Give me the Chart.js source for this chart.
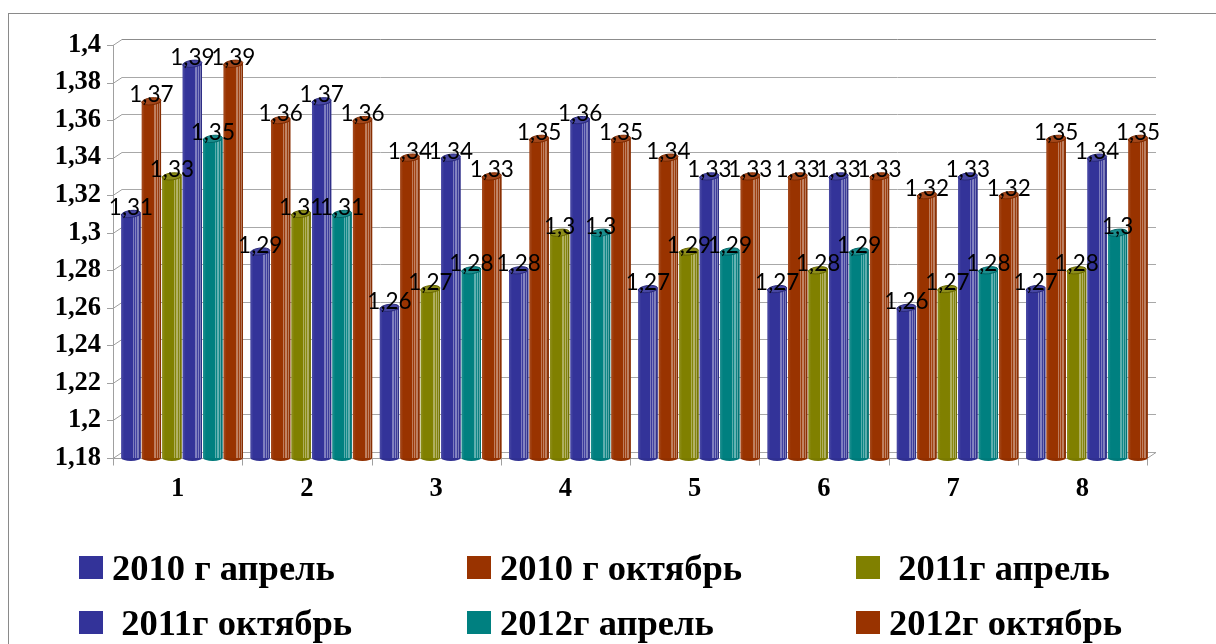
<!DOCTYPE html>
<html>
<head>
<meta charset="utf-8">
<script src="https://cdn.jsdelivr.net/npm/chart.js@4/dist/chart.umd.min.js"></script>
<style>
  html, body { margin: 0; padding: 0; background: #fff; }
  #wrap { position: relative; width: 1216px; height: 644px; overflow: hidden; }
  #frame { position: absolute; left: 8px; top: 13px; width: 1300px; height: 700px; border: 1px solid #8a8a8a; box-sizing: border-box; }
  canvas { position: absolute; left: 0; top: 0; }
  .item { position: absolute; height: 36px; line-height: 36px; white-space: pre;
          font-family: "Liberation Serif", "Times New Roman", serif; font-weight: bold; font-size: 36.5px; color: #000; }
  .sw { position: absolute; width: 24px; height: 23px; }
  .tx { position: absolute; }
</style>
</head>
<body>
<div id="wrap">
  <div id="frame"></div>
  <canvas id="c" width="1216" height="644"></canvas>
  <div id="legend"></div>
</div>
<script>
// Categories along the x axis
const categories = ['1', '2', '3', '4', '5', '6', '7', '8'];

// Series names and values per category
const seriesNames = ['2010 г апрель', '2010 г октябрь', ' 2011г апрель', ' 2011г октябрь', '2012г апрель', '2012г октябрь'];
const apr2010 = [1.31, 1.29, 1.26, 1.28, 1.27, 1.27, 1.26, 1.27];
const oct2010 = [1.37, 1.36, 1.34, 1.35, 1.34, 1.33, 1.32, 1.35];
const apr2011 = [1.33, 1.31, 1.27, 1.30, 1.29, 1.28, 1.27, 1.28];
const oct2011 = [1.39, 1.37, 1.34, 1.36, 1.33, 1.33, 1.33, 1.34];
const apr2012 = [1.35, 1.31, 1.28, 1.30, 1.29, 1.29, 1.28, 1.30];
const oct2012 = [1.39, 1.36, 1.33, 1.35, 1.33, 1.33, 1.32, 1.35];
const seriesValues = [apr2010, oct2010, apr2011, oct2011, apr2012, oct2012];
const seriesColors = ['#333399', '#993300', '#808000', '#333399', '#008080', '#993300'];

// Y axis ticks
const yTicks = [1.18, 1.20, 1.22, 1.24, 1.26, 1.28, 1.30, 1.32, 1.34, 1.36, 1.38, 1.40];

const fmt = v => String(Math.round(v * 100) / 100).replace('.', ',');

// Perspective depth of the back wall relative to the front plane
const DEPTH_X = 9, DEPTH_Y = 6;

function mix(hex, f) {
  const n = parseInt(hex.slice(1), 16);
  let r = (n >> 16) & 255, g = (n >> 8) & 255, b = n & 255;
  const t = f > 0 ? 255 : 0, a = Math.abs(f);
  r = Math.round(r + (t - r) * a); g = Math.round(g + (t - g) * a); b = Math.round(b + (t - b) * a);
  return `rgb(${r},${g},${b})`;
}

// Walls, grid and front axis lines of the 3D box
const wallsPlugin = {
  id: 'walls',
  beforeDatasetsDraw(chart) {
    const { ctx, chartArea, scales } = chart;
    const y = scales.y;
    const half = DEPTH_X / 2;
    const fL = chartArea.left - half, fR = chartArea.right - half;
    const bL = fL + DEPTH_X, bR = fR + DEPTH_X;
    const yTop = y.getPixelForValue(yTicks[yTicks.length - 1]);
    const yBot = y.getPixelForValue(yTicks[0]);
    ctx.save();
    ctx.lineWidth = 1;
    // back gridlines
    yTicks.forEach((v, i) => {
      const py = Math.round(y.getPixelForValue(v) - DEPTH_Y) + 0.5;
      ctx.strokeStyle = i === yTicks.length - 1 ? '#8c8c8c' : '#a8a8a8';
      ctx.beginPath(); ctx.moveTo(bL, py); ctx.lineTo(bR, py); ctx.stroke();
    });
    // front axis and ticks with diagonals to the back wall
    ctx.strokeStyle = '#a0a0a0';
    ctx.beginPath();
    ctx.moveTo(Math.round(fL) + 0.5, yTop); ctx.lineTo(Math.round(fL) + 0.5, yBot);
    yTicks.forEach(v => {
      const py = Math.round(y.getPixelForValue(v)) + 0.5;
      ctx.moveTo(fL - 6, py); ctx.lineTo(fL, py); ctx.lineTo(bL, py - DEPTH_Y);
    });
    // floor front edge and right diagonal
    const pb = Math.round(yBot) + 0.5;
    ctx.moveTo(fL, pb); ctx.lineTo(fR, pb); ctx.lineTo(bR, pb - DEPTH_Y);
    // category ticks
    const step = (fR - fL) / categories.length;
    for (let i = 0; i <= categories.length; i++) {
      const px = Math.round(fL + step * i) + 0.5;
      ctx.moveTo(px, pb); ctx.lineTo(px, pb + 7);
    }
    ctx.stroke();
    ctx.restore();
  }
};

// Cylinder shading on each bar plus value labels
const barsPlugin = {
  id: 'bars3d',
  afterDatasetsDraw(chart) {
    const { ctx } = chart;
    ctx.save();
    chart.data.datasets.forEach((ds, di) => {
      const meta = chart.getDatasetMeta(di);
      const col = seriesColors[di];
      meta.data.forEach(el => {
        const { x, y, base, width } = el.getProps(['x', 'y', 'base', 'width'], true);
        const l = x - width / 2, h = base - y;
        // body gradient
        const g = ctx.createLinearGradient(l, 0, l + width, 0);
        g.addColorStop(0, mix(col, 0.12));
        g.addColorStop(0.15, col);
        g.addColorStop(0.6, col);
        g.addColorStop(0.8, mix(col, 0.08));
        g.addColorStop(1, mix(col, -0.15));
        ctx.fillStyle = g;
        ctx.fillRect(l, y, width, h);
        // highlight lines
        ctx.strokeStyle = 'rgba(255,255,255,0.35)';
        ctx.lineWidth = 1;
        [0.62, 0.7, 0.79, 0.88].forEach(f => {
          const px = Math.round(l + width * f) + 0.5;
          ctx.beginPath(); ctx.moveTo(px, y + 2); ctx.lineTo(px, base); ctx.stroke();
        });
        // rounded bottom
        ctx.fillStyle = mix(col, -0.05);
        ctx.beginPath(); ctx.ellipse(x, base, width / 2, 3, 0, 0, Math.PI); ctx.fill();
        // top cap
        ctx.fillStyle = mix(col, 0.1);
        ctx.beginPath(); ctx.ellipse(x, y, width / 2, 3.5, -0.12, 0, Math.PI * 2); ctx.fill();
        ctx.strokeStyle = mix(col, -0.2);
        ctx.beginPath(); ctx.ellipse(x, y, width / 2, 3.5, -0.12, 0, Math.PI * 2); ctx.stroke();
      });
    });
    // value labels
    ctx.font = '22.5px Lato, "Open Sans", sans-serif';
    ctx.fillStyle = '#000';
    ctx.textAlign = 'center';
    ctx.textBaseline = 'alphabetic';
    chart.data.datasets.forEach((ds, di) => {
      const meta = chart.getDatasetMeta(di);
      meta.data.forEach((el, i) => {
        const { x, y } = el.getProps(['x', 'y'], true);
        ctx.fillText(fmt(ds.data[i]), x, y + 1);
      });
    });
    ctx.restore();
  }
};

const axisFont = { family: 'Liberation Serif', size: 26.5, weight: 'bold' };

new Chart(document.getElementById('c'), {
  type: 'bar',
  data: {
    labels: categories,
    datasets: seriesNames.map((name, i) => ({
      label: name,
      data: seriesValues[i],
      base: yTicks[0],
      backgroundColor: seriesColors[i],
      borderWidth: 0,
      categoryPercentage: 0.95,
      barPercentage: 0.94
    }))
  },
  options: {
    responsive: false,
    animation: false,
    layout: { padding: { left: 0, right: 64.5, top: 45, bottom: 0 } },
    plugins: { legend: { display: false }, tooltip: { enabled: false } },
    scales: {
      x: {
        grid: { display: false, drawTicks: false },
        border: { display: false },
        ticks: { font: axisFont, color: '#000', padding: 15, labelOffset: -DEPTH_X / 2 },
        afterFit(s) { s.height = 186; }
      },
      y: {
        min: yTicks[0],
        max: yTicks[yTicks.length - 1],
        afterBuildTicks(s) { s.ticks = yTicks.map(v => ({ value: v })); },
        grid: { display: false, drawTicks: false },
        border: { display: false },
        ticks: { font: axisFont, color: '#000', padding: 16.5, callback: v => fmt(v) },
        afterFit(s) { s.width = 117.5; }
      }
    }
  },
  plugins: [wallsPlugin, barsPlugin]
});

// Legend: two rows of three entries
const legendPos = [
  [79, 549.5], [467, 549.5], [856, 549.5],
  [79, 604.5], [467, 604.5], [856, 604.5]
];
const legend = document.getElementById('legend');
seriesNames.forEach((name, i) => {
  const item = document.createElement('div');
  item.className = 'item';
  item.style.left = legendPos[i][0] + 'px';
  item.style.top = legendPos[i][1] + 'px';
  const sw = document.createElement('span');
  sw.className = 'sw';
  sw.style.background = seriesColors[i];
  sw.style.left = '0px';
  sw.style.top = '6.5px';
  const tx = document.createElement('span');
  tx.className = 'tx';
  tx.style.left = '33px';
  tx.style.top = '0px';
  tx.textContent = name;
  item.appendChild(sw);
  item.appendChild(tx);
  legend.appendChild(item);
});
</script>
</body>
</html>
